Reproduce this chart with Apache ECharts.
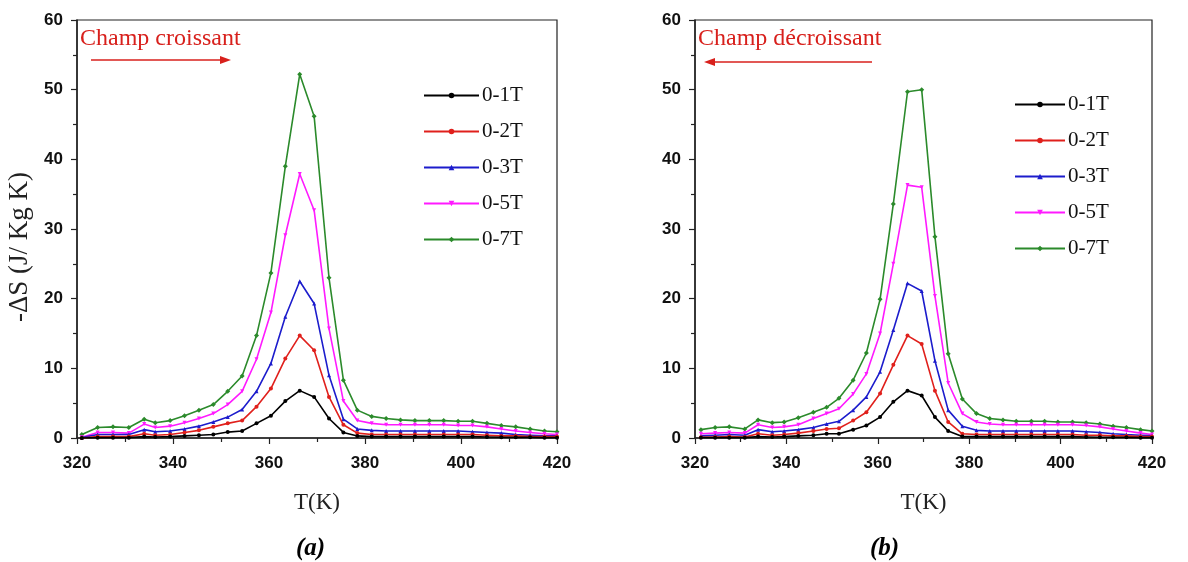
<!DOCTYPE html>
<html><head><meta charset="utf-8">
<script src="https://cdn.jsdelivr.net/npm/echarts@6/dist/echarts.min.js"></script>
<style>html,body{margin:0;padding:0;background:#fff}#c{width:1188px;height:562px}</style>
</head><body><div id="c"></div>
<script>
const seriesNames = ['0-1T','0-2T','0-3T','0-5T','0-7T'];
const colors = ['#000000','#e0201c','#1c1ccc','#ff1aff','#2b8a2b'];
const symbols = ['circle','circle','triangle','path://M0,0 L10,0 L5,9 Z','diamond'];

// (a) Champ croissant
const tempA = [321,324.3,327.5,330.8,334,336.3,339.4,342.4,345.4,348.4,351.4,354.4,357.4,360.4,363.4,366.4,369.4,372.5,375.5,378.4,381.4,384.4,387.4,390.4,393.4,396.4,399.4,402.4,405.4,408.4,411.4,414.4,417.4,420];
const a_1T = [0,0.05,0.05,0.05,0.2,0.15,0.2,0.3,0.4,0.5,0.85,1.0,2.1,3.2,5.3,6.8,5.9,2.8,0.8,0.3,0.2,0.2,0.2,0.2,0.2,0.2,0.2,0.2,0.15,0.1,0.1,0.1,0.05,0.05];
const a_2T = [0,0.2,0.2,0.2,0.6,0.4,0.5,0.8,1.1,1.6,2.1,2.5,4.5,7.1,11.4,14.7,12.6,5.9,1.9,0.7,0.5,0.5,0.5,0.5,0.5,0.5,0.5,0.5,0.4,0.3,0.3,0.2,0.2,0.2];
const a_3T = [0.05,0.5,0.5,0.5,1.2,0.9,1.0,1.3,1.7,2.3,3.0,4.1,6.7,10.7,17.4,22.5,19.3,9.0,2.7,1.3,1.1,1.0,1.0,1.0,1.0,1.0,1.0,0.9,0.8,0.7,0.5,0.4,0.3,0.3];
const a_5T = [0.1,0.8,0.8,0.7,2.0,1.5,1.7,2.2,2.8,3.5,4.8,6.7,11.3,18.0,29.1,37.9,32.7,15.7,5.3,2.5,2.1,1.9,1.9,1.9,1.9,1.9,1.8,1.8,1.6,1.3,1.0,0.8,0.6,0.5];
const a_7T = [0.5,1.5,1.6,1.5,2.7,2.2,2.5,3.2,4.0,4.8,6.7,8.9,14.7,23.7,39.0,52.2,46.2,23.0,8.3,4.0,3.1,2.8,2.6,2.5,2.5,2.5,2.4,2.4,2.1,1.8,1.6,1.3,1.0,0.9];

// (b) Champ décroissant
const tempB = [321.3,324.4,327.5,330.9,333.8,336.9,339.5,342.6,345.9,348.8,351.5,354.6,357.5,360.5,363.4,366.5,369.6,372.5,375.4,378.5,381.6,384.5,387.4,390.3,393.6,396.5,399.4,402.6,405.6,408.6,411.5,414.4,417.5,420];
const b_1T = [0.05,0.05,0.05,0.05,0.2,0.15,0.2,0.3,0.4,0.6,0.6,1.2,1.8,3.0,5.2,6.8,6.1,3.0,1.0,0.2,0.2,0.2,0.2,0.2,0.2,0.2,0.2,0.2,0.15,0.1,0.1,0.1,0.05,0.05];
const b_2T = [0.1,0.15,0.2,0.15,0.6,0.4,0.5,0.7,1.0,1.3,1.4,2.5,3.7,6.4,10.5,14.7,13.5,6.8,2.3,0.6,0.5,0.5,0.5,0.5,0.5,0.5,0.5,0.5,0.4,0.4,0.3,0.3,0.2,0.2];
const b_3T = [0.3,0.4,0.5,0.4,1.2,0.9,1.0,1.2,1.5,2.0,2.4,4.0,5.9,9.5,15.5,22.2,21.1,11.1,4.0,1.7,1.1,1.0,1.0,1.0,1.0,1.0,1.0,1.0,0.9,0.8,0.6,0.5,0.4,0.3];
const b_5T = [0.6,0.7,0.8,0.7,1.9,1.5,1.6,1.9,2.8,3.5,4.2,6.3,9.2,15.0,25.0,36.3,36.0,20.4,7.9,3.5,2.3,2.0,1.9,1.9,1.9,1.9,1.9,1.9,1.8,1.6,1.3,1.0,0.7,0.5];
const b_7T = [1.2,1.5,1.6,1.3,2.6,2.2,2.3,2.9,3.7,4.4,5.7,8.3,12.2,19.9,33.6,49.7,50.0,28.9,12.1,5.6,3.5,2.8,2.6,2.4,2.4,2.4,2.3,2.3,2.2,2.0,1.7,1.5,1.2,1.0];

const xTicks = [320,340,360,380,400,420];
const yTicks = [0,10,20,30,40,50,60];
const yName = '-ΔS (J/ Kg K)';
const xName = 'T(K)';
const annA = 'Champ croissant';
const annB = 'Champ décroissant';
const capA = '(a)';
const capB = '(b)';

const setsA = [a_1T,a_2T,a_3T,a_5T,a_7T];
const setsB = [b_1T,b_2T,b_3T,b_5T,b_7T];

const chart = echarts.init(document.getElementById('c'), null, {renderer:'canvas'});
const serif = '"Liberation Serif","DejaVu Serif",serif';
const sans = '"Liberation Sans",Arial,sans-serif';

function xAxis(gi){
  return {
    type:'value', gridIndex:gi, min:xTicks[0], max:xTicks[xTicks.length-1], interval:20,
    name:xName, nameLocation:'middle', nameGap:53,
    nameTextStyle:{fontFamily:serif, fontSize:23, color:'#222'},
    axisLine:{onZero:false, lineStyle:{color:'#222', width:1.5}},
    axisTick:{show:true, inside:false, length:6, lineStyle:{color:'#222', width:1.2}},
    minorTick:{show:true, splitNumber:2, length:4, lineStyle:{color:'#222', width:1.2}},
    axisLabel:{fontFamily:sans, fontWeight:'bold', fontSize:17, color:'#111', margin:17},
    splitLine:{show:false}
  };
}
function yAxis(gi, withName){
  return {
    type:'value', gridIndex:gi, min:yTicks[0], max:yTicks[yTicks.length-1], interval:10,
    name: withName ? yName : '', nameLocation:'middle', nameGap:44, nameRotate:90,
    nameTextStyle:{fontFamily:serif, fontSize:27, color:'#222', padding:[0,36,0,0]},
    axisLine:{show:true, onZero:false, lineStyle:{color:'#222', width:1.5}},
    axisTick:{show:true, inside:false, length:6, lineStyle:{color:'#222', width:1.2}},
    minorTick:{show:true, splitNumber:2, length:4, lineStyle:{color:'#222', width:1.2}},
    axisLabel:{fontFamily:sans, fontWeight:'bold', fontSize:17, color:'#111', margin:14},
    splitLine:{show:false}
  };
}

const series = [];
[[tempA,setsA,0],[tempB,setsB,1]].forEach(([xs,sets,gi])=>{
  sets.forEach((vals,i)=>{
    series.push({
      type:'line', name:seriesNames[i], xAxisIndex:gi, yAxisIndex:gi,
      data: xs.map((x,k)=>[x, vals[k]]),
      symbol:symbols[i], symbolSize: i===4?5:4, showSymbol:true,
      lineStyle:{color:colors[i], width:1.6},
      itemStyle:{color:colors[i]},
      z: 10 - i,
      animation:false
    });
  });
});

function legend(left, top, w){
  return {
    left:left, top:top, orient:'vertical', itemWidth:w, itemHeight:7, itemGap:15,
    data:seriesNames, selectedMode:false,
    textStyle:{fontFamily:serif, fontSize:21, color:'#111', lineHeight:21, padding:[0,0,0,-2]}
  };
}

const red = '#d8201c';
chart.setOption({
  animation:false,
  backgroundColor:'#fff',
  grid:[
    {left:77, top:20, width:480, height:418, show:true, borderColor:'#222', borderWidth:1.2, backgroundColor:'transparent'},
    {left:695, top:20, width:457, height:418, show:true, borderColor:'#222', borderWidth:1.2, backgroundColor:'transparent'}
  ],
  xAxis:[xAxis(0), xAxis(1)],
  yAxis:[yAxis(0,true), yAxis(1,false)],
  legend:[legend(418,80,55), legend(1009,89,50)],
  series:series,
  graphic:[
    {type:'text', left:80, top:27, style:{text:annA, fill:red, font:'24px '+serif}},
    {type:'line', shape:{x1:91,y1:60,x2:222,y2:60}, style:{stroke:red, lineWidth:1.6}},
    {type:'polygon', shape:{points:[[231,60],[220,56],[220,64]]}, style:{fill:red}},
    {type:'text', left:698, top:27, style:{text:annB, fill:red, font:'24px '+serif}},
    {type:'line', shape:{x1:714,y1:62,x2:872,y2:62}, style:{stroke:red, lineWidth:1.6}},
    {type:'polygon', shape:{points:[[704,62],[715,58],[715,66]]}, style:{fill:red}},
    {type:'text', left:296, top:536, style:{text:capA, fill:'#000', font:'italic bold 25px '+serif}},
    {type:'text', left:870, top:536, style:{text:capB, fill:'#000', font:'italic bold 25px '+serif}}
  ]
});
</script>
</body></html>
